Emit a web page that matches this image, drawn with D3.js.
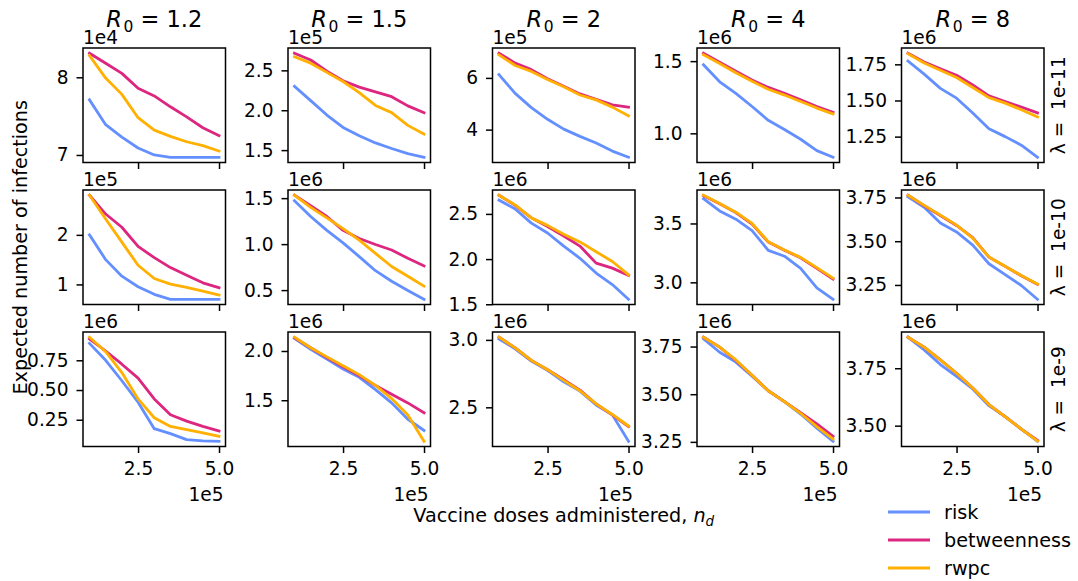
<!DOCTYPE html>
<html>
<head>
<meta charset="utf-8">
<script src="https://cdn.jsdelivr.net/npm/d3@7"></script>
<style>
  html, body { margin: 0; padding: 0; background: #fff; }
  svg text { font-family: "DejaVu Sans", sans-serif; fill: #000; }
</style>
</head>
<body>
<svg id="chart" width="1078" height="581"></svg>
<script>
// ---------------- data ----------------
const doses = [100000, 150000, 200000, 250000, 300000, 350000, 400000, 450000, 500000];
const r0Labels = ["1.2", "1.5", "2", "4", "8"];
const lambdaLabels = ["1e-11", "1e-10", "1e-9"];
const seriesNames = ["risk", "betweenness", "rwpc"];
const xTicks = [250000, 500000];
const xTickLabels = ["2.5", "5.0"];
const xOffsetLabel = "1e5";

// y offset exponents per row (lambda) and column (R0)
const yOffsetLabels = [
  ["1e4", "1e5", "1e5", "1e6", "1e6"],
  ["1e5", "1e6", "1e6", "1e6", "1e6"],
  ["1e6", "1e6", "1e6", "1e6", "1e6"]
];
// y tick labels (mantissa) per row / column
const yTickLabels = [
  [["7", "8"], ["1.5", "2.0", "2.5"], ["4", "6"], ["1.0", "1.5"], ["1.25", "1.50", "1.75"]],
  [["1", "2"], ["0.5", "1.0", "1.5"], ["1.5", "2.0", "2.5"], ["3.0", "3.5"], ["3.25", "3.50", "3.75"]],
  [["0.25", "0.50", "0.75"], ["1.5", "2.0"], ["2.5", "3.0"], ["3.25", "3.50", "3.75"], ["3.50", "3.75"]]
];

// values (mantissa of the offset) — lambda = 1e-11, columns R0 = 1.2 ... 8
const risk_l11 = [
  [7.71, 7.39, 7.23, 7.09, 7.00, 6.97, 6.97, 6.97, 6.97],
  [2.30, 2.12, 1.94, 1.785, 1.68, 1.59, 1.52, 1.455, 1.41],
  [6.13, 5.40, 4.85, 4.40, 4.02, 3.74, 3.48, 3.17, 2.93],
  [1.475, 1.357, 1.277, 1.186, 1.09, 1.027, 0.959, 0.88, 0.834],
  [1.773, 1.682, 1.584, 1.516, 1.414, 1.305, 1.25, 1.191, 1.107]
];
const betweenness_l11 = [
  [8.31, 8.18, 8.05, 7.86, 7.76, 7.62, 7.49, 7.35, 7.25],
  [2.715, 2.63, 2.49, 2.37, 2.29, 2.23, 2.17, 2.055, 1.97],
  [6.955, 6.57, 6.32, 5.97, 5.68, 5.38, 5.17, 4.96, 4.87],
  [1.555, 1.493, 1.43, 1.37, 1.318, 1.277, 1.232, 1.186, 1.145],
  [1.827, 1.766, 1.72, 1.675, 1.607, 1.532, 1.493, 1.455, 1.414]
];
const rwpc_l11 = [
  [8.28, 7.99, 7.78, 7.48, 7.32, 7.24, 7.17, 7.12, 7.05],
  [2.67, 2.59, 2.475, 2.36, 2.22, 2.06, 1.97, 1.81, 1.70],
  [6.89, 6.48, 6.25, 5.94, 5.66, 5.34, 5.15, 4.87, 4.53],
  [1.545, 1.484, 1.42, 1.36, 1.305, 1.265, 1.22, 1.175, 1.135],
  [1.823, 1.759, 1.709, 1.659, 1.59, 1.52, 1.482, 1.436, 1.386]
];
// lambda = 1e-10
const risk_l10 = [
  [2.00, 1.50, 1.167, 0.953, 0.80, 0.70, 0.70, 0.70, 0.70],
  [1.471, 1.30, 1.15, 1.014, 0.864, 0.711, 0.596, 0.496, 0.40],
  [2.653, 2.555, 2.398, 2.289, 2.144, 2.009, 1.845, 1.718, 1.555],
  [3.711, 3.606, 3.536, 3.439, 3.272, 3.222, 3.119, 2.953, 2.856],
  [3.754, 3.694, 3.604, 3.553, 3.478, 3.371, 3.309, 3.247, 3.168]
];
const betweenness_l10 = [
  [2.80, 2.42, 2.153, 1.767, 1.54, 1.34, 1.187, 1.033, 0.933],
  [1.532, 1.418, 1.30, 1.15, 1.061, 0.996, 0.936, 0.846, 0.764],
  [2.707, 2.595, 2.456, 2.36, 2.255, 2.144, 1.955, 1.90, 1.82],
  [3.736, 3.667, 3.592, 3.494, 3.342, 3.272, 3.208, 3.119, 3.028],
  [3.763, 3.703, 3.647, 3.59, 3.521, 3.409, 3.356, 3.303, 3.253]
];
const rwpc_l10 = [
  [2.80, 2.32, 1.853, 1.387, 1.12, 1.007, 0.94, 0.867, 0.787],
  [1.532, 1.40, 1.286, 1.168, 1.043, 0.90, 0.757, 0.65, 0.543],
  [2.707, 2.60, 2.456, 2.373, 2.275, 2.19, 2.082, 1.973, 1.827],
  [3.74, 3.67, 3.596, 3.50, 3.345, 3.275, 3.212, 3.125, 3.036],
  [3.763, 3.705, 3.649, 3.592, 3.518, 3.41, 3.357, 3.304, 3.255]
];
// lambda = 1e-9
const risk_l9 = [
  [0.892, 0.75, 0.578, 0.397, 0.175, 0.133, 0.083, 0.072, 0.069],
  [2.127, 2.017, 1.917, 1.817, 1.733, 1.607, 1.473, 1.307, 1.193],
  [3.007, 2.934, 2.843, 2.775, 2.689, 2.62, 2.517, 2.444, 2.248],
  [3.79, 3.72, 3.668, 3.594, 3.518, 3.461, 3.396, 3.322, 3.253],
  [3.885, 3.83, 3.766, 3.714, 3.66, 3.587, 3.539, 3.485, 3.432]
];
const betweenness_l9 = [
  [0.93, 0.828, 0.717, 0.60, 0.425, 0.292, 0.239, 0.194, 0.156],
  [2.133, 2.033, 1.933, 1.84, 1.75, 1.65, 1.56, 1.473, 1.373],
  [3.02, 2.941, 2.848, 2.779, 2.705, 2.628, 2.525, 2.444, 2.358],
  [3.799, 3.747, 3.677, 3.599, 3.518, 3.461, 3.403, 3.344, 3.279],
  [3.885, 3.842, 3.786, 3.728, 3.664, 3.592, 3.539, 3.485, 3.436]
];
const rwpc_l9 = [
  [0.944, 0.822, 0.647, 0.425, 0.267, 0.194, 0.167, 0.139, 0.111],
  [2.14, 2.033, 1.94, 1.85, 1.76, 1.65, 1.517, 1.35, 1.083],
  [3.02, 2.941, 2.848, 2.779, 2.70, 2.623, 2.525, 2.447, 2.362],
  [3.799, 3.747, 3.68, 3.599, 3.518, 3.461, 3.40, 3.33, 3.265],
  [3.885, 3.842, 3.786, 3.728, 3.664, 3.592, 3.539, 3.485, 3.433]
];

const rows = [
  [risk_l11, betweenness_l11, rwpc_l11],
  [risk_l10, betweenness_l10, rwpc_l10],
  [risk_l9, betweenness_l9, rwpc_l9]
];

// ---------------- style / layout ----------------
const colors = ["#648FFF", "#DC267F", "#FFB000"];
const colLeft = [83, 288, 492.5, 697, 901.5];
const rowTop = [48, 190, 332];
const pw = 142.5, ph = 114.5;
const tickFont = 18.6;
const labelFont = 19.2;
const lineW = 2.8;

const svg = d3.select("#chart");

function padExtent(ext) {
  const r = ext[1] - ext[0];
  return [ext[0] - 0.05 * r, ext[1] + 0.05 * r];
}

const x = d3.scaleLinear().domain(padExtent(d3.extent(doses)));

rows.forEach((rowSeries, ri) => {
  r0Labels.forEach((r0, ci) => {
    const g = svg.append("g").attr("transform", `translate(${colLeft[ci]},${rowTop[ri]})`);
    const xs = x.copy().range([0, pw]);
    const allVals = rowSeries.flatMap(s => s[ci]);
    const ys = d3.scaleLinear().domain(padExtent(d3.extent(allVals))).range([ph, 0]);

    // lines
    const line = d3.line().x((d, i) => xs(doses[i])).y(d => ys(d));
    rowSeries.forEach((s, si) => {
      g.append("path")
        .datum(s[ci])
        .attr("d", line)
        .attr("fill", "none")
        .attr("stroke", colors[si])
        .attr("stroke-width", lineW)
        .attr("stroke-linejoin", "round")
        .attr("stroke-linecap", "square");
    });

    // y axis
    const yt = yTickLabels[ri][ci];
    const yAxis = d3.axisLeft(ys)
      .tickValues(yt.map(Number))
      .tickFormat((d, i) => yt[i])
      .tickSize(6.5).tickPadding(8);
    const ya = g.append("g").call(yAxis);
    ya.select(".domain").remove();
    ya.selectAll(".tick line").attr("stroke", "#000").attr("stroke-width", 1.5);
    ya.selectAll(".tick text").attr("font-size", tickFont).attr("font-family", "DejaVu Sans").attr("fill", "#000");

    // x axis
    const xAxis = d3.axisBottom(xs)
      .tickValues(xTicks)
      .tickFormat((d, i) => ri === rows.length - 1 ? xTickLabels[i] : "")
      .tickSize(6.5).tickPadding(9);
    const xa = g.append("g").attr("transform", `translate(0,${ph})`).call(xAxis);
    xa.select(".domain").remove();
    xa.selectAll(".tick line").attr("stroke", "#000").attr("stroke-width", 1.5);
    xa.selectAll(".tick text").attr("font-size", tickFont).attr("font-family", "DejaVu Sans").attr("fill", "#000");

    if (ri === rows.length - 1) {
      g.append("text").attr("x", pw - 2).attr("y", ph + 54)
        .attr("text-anchor", "end").attr("font-size", tickFont).text(xOffsetLabel);
    }

    // frame
    g.append("rect").attr("x", 0).attr("y", 0).attr("width", pw).attr("height", ph)
      .attr("fill", "none").attr("stroke", "#000").attr("stroke-width", 1.5);

    // y offset text
    g.append("text").attr("x", 0).attr("y", -4.5)
      .attr("font-size", tickFont).text(yOffsetLabels[ri][ci]);

    // column titles
    if (ri === 0) {
      const t = svg.append("text")
        .attr("x", colLeft[ci] + pw / 2).attr("y", 27)
        .attr("text-anchor", "middle").attr("font-size", 22.5);
      t.append("tspan").attr("font-style", "italic").text("R");
      t.append("tspan").attr("font-size", 15.5).attr("dx", 1.5).attr("dy", 5).text("0");
      t.append("tspan").attr("dy", -5).text(" = " + r0);
    }
    // row labels
    if (ci === r0Labels.length - 1) {
      svg.append("text")
        .attr("transform", `translate(${colLeft[ci] + pw + 14},${rowTop[ri] + ph / 2}) rotate(-90)`)
        .attr("text-anchor", "middle").attr("dominant-baseline", "central")
        .attr("font-size", tickFont)
        .style("white-space", "pre")
        .text("λ =  " + lambdaLabels[ri]);
    }
  });
});

// figure labels (centred on the middle column / middle row)
const xl = svg.append("text").attr("x", colLeft[2] + pw / 2).attr("y", 522)
  .attr("text-anchor", "middle").attr("font-size", labelFont);
xl.append("tspan").text("Vaccine doses administered, ");
xl.append("tspan").attr("font-style", "italic").text("n");
xl.append("tspan").attr("font-style", "italic").attr("font-size", 13.5).attr("dy", 4).text("d");

svg.append("text")
  .attr("transform", `translate(20,${rowTop[1] + ph / 2}) rotate(-90)`)
  .attr("text-anchor", "middle").attr("dominant-baseline", "central")
  .attr("font-size", labelFont)
  .text("Expected number of infections");

// legend
const legend = svg.append("g");
seriesNames.forEach((name, i) => {
  const yy = 512 + i * 28;
  legend.append("line").attr("x1", 888).attr("x2", 930).attr("y1", yy).attr("y2", yy)
    .attr("stroke", colors[i]).attr("stroke-width", lineW);
  legend.append("text").attr("x", 944).attr("y", yy).attr("dominant-baseline", "central")
    .attr("font-size", labelFont).text(name);
});
</script>
</body>
</html>
